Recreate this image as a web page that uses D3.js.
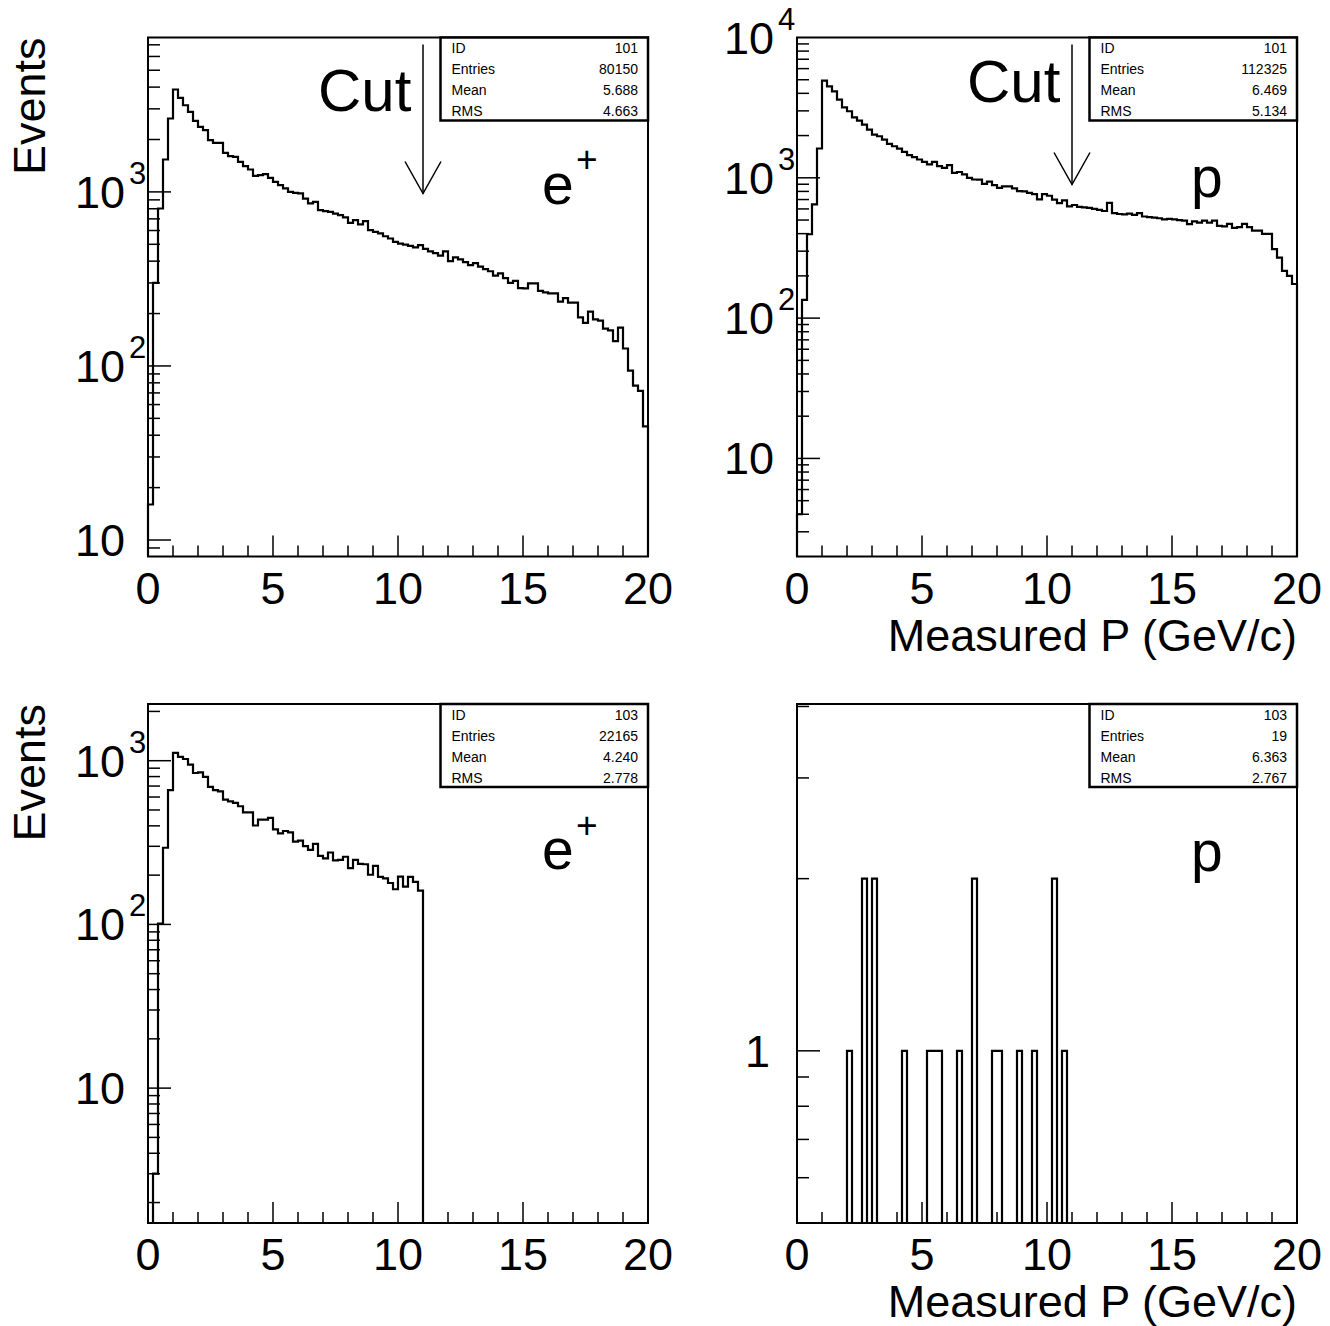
<!DOCTYPE html>
<html>
<head>
<meta charset="utf-8">
<script src="https://cdn.jsdelivr.net/npm/d3@7"></script>
<style>
  body { margin: 0; background: #fff; }
  text { font-family: "Liberation Sans", Arial, Helvetica, sans-serif; fill: #000; }
</style>
</head>
<body>
<script>
// histogram binning: 100 bins of 0.2 GeV/c
var xMin = 0, xMax = 20, nBins = 100;

// e+ before cut (ID 101)
var ePlusAll = [
  16, 300, 803, 1535, 2640, 3875, 3467, 3147, 2883, 2560,
  2364, 2264, 1982, 1914, 1914, 1676, 1604, 1589, 1486, 1405,
  1345, 1236, 1247, 1264, 1203, 1141, 1093, 1047, 1000, 987,
  980, 916, 858, 877, 785, 775, 768, 751, 735, 713,
  664, 688, 650, 680, 603, 589, 577, 556, 540, 516,
  505, 498, 490, 480, 495, 470, 455, 445, 430, 455,
  400, 420, 410, 395, 380, 390, 372, 360, 350, 330,
  340, 320, 300, 308, 280, 279, 298, 298, 270, 265,
  261, 261, 234, 245, 231, 231, 190, 177, 205, 185,
  182, 164, 160, 139, 166, 126, 94, 77, 72, 45
];
// p before cut (ID 101)
var pAll = [
  4, 135, 396, 647, 1618, 4920, 4480, 4130, 3605, 3180,
  2980, 2700, 2557, 2395, 2207, 2034, 1978, 1874, 1743, 1678,
  1617, 1530, 1450, 1403, 1351, 1300, 1245, 1300, 1211, 1178,
  1230, 1086, 1100, 1057, 1000, 973, 970, 906, 940, 887,
  849, 870, 870, 840, 805, 800, 782, 765, 703, 765,
  745, 700, 660, 690, 625, 640, 620, 615, 610, 600,
  590, 580, 663, 560, 552, 548, 555, 545, 560, 530,
  525, 520, 515, 505, 510, 505, 500, 495, 468, 490,
  480, 495, 480, 495, 454, 450, 470, 440, 445, 470,
  445, 420, 420, 398, 398, 310, 270, 217, 200, 175
];
// e+ after cut (ID 103)
var ePlusCut = [
  1, 3, 101, 294, 661, 1115, 1054, 1024, 946, 841,
  849, 796, 692, 661, 650, 578, 565, 552, 527, 484,
  484, 402, 437, 436, 448, 381, 360, 372, 365, 320,
  325, 301, 285, 310, 262, 253, 275, 246, 248, 259,
  221, 248, 234, 233, 201, 228, 195, 191, 179, 164,
  196, 170, 195, 182, 161, 0, 0, 0, 0, 0,
  0, 0, 0, 0, 0, 0, 0, 0, 0, 0,
  0, 0, 0, 0, 0, 0, 0, 0, 0, 0,
  0, 0, 0, 0, 0, 0, 0, 0, 0, 0,
  0, 0, 0, 0, 0, 0, 0, 0, 0, 0
];
// p after cut (ID 103)
var pCut = [
  0, 0, 0, 0, 0, 0, 0, 0, 0, 0,
  1, 0, 0, 2, 0, 2, 0, 0, 0, 0,
  0, 1, 0, 0, 0, 0, 1, 1, 1, 0,
  0, 0, 1, 0, 0, 2, 0, 0, 0, 1,
  1, 0, 0, 0, 1, 0, 0, 1, 0, 0,
  0, 2, 0, 1, 0, 0, 0, 0, 0, 0,
  0, 0, 0, 0, 0, 0, 0, 0, 0, 0,
  0, 0, 0, 0, 0, 0, 0, 0, 0, 0,
  0, 0, 0, 0, 0, 0, 0, 0, 0, 0,
  0, 0, 0, 0, 0, 0, 0, 0, 0, 0
];

var statNames = ["ID", "Entries", "Mean", "RMS"];
var statsEPlusAll = ["101", "80150", "5.688", "4.663"];
var statsPAll = ["101", "112325", "6.469", "5.134"];
var statsEPlusCut = ["103", "22165", "4.240", "2.778"];
var statsPCut = ["103", "19", "6.363", "2.767"];

var xMajorTicks = [0, 5, 10, 15, 20];
var cutValue = 11;

var svg = d3.select("body").append("svg")
  .attr("width", 1330)
  .attr("height", 1326);

var font = 45;

// one entry per pad
var pads = [
  {counts: ePlusAll, stats: statsEPlusAll, left: 148, top: 37.5, yDomain: [8.04, 7710],
   particle: "e", sup: "+", labelDy: 166, cut: true, cutDy: 73, ytitle: true, xtitle: false},
  {counts: pAll, stats: statsPAll, left: 797, top: 37.5, yDomain: [2.0, 10000],
   particle: "p", sup: "", labelDy: 159, cut: true, cutDy: 64, ytitle: false, xtitle: true},
  {counts: ePlusCut, stats: statsEPlusCut, left: 148, top: 704, yDomain: [1.5, 2220],
   particle: "e", sup: "+", labelDy: 165, cut: false, ytitle: true, xtitle: false},
  {counts: pCut, stats: statsPCut, left: 797, top: 704, yDomain: [0.5, 4.04],
   particle: "p", sup: "", labelDy: 167, cut: false, ytitle: false, xtitle: true}
];

var padW = 500, padH = 519;

pads.forEach(drawPad);

function drawPad(p) {
  var g = svg.append("g").attr("transform", "translate(" + p.left + "," + p.top + ")");
  var x = d3.scaleLinear().domain([xMin, xMax]).range([0, padW]);
  var y = d3.scaleLog().domain(p.yDomain).range([padH, 0]).clamp(true);
  var binW = (xMax - xMin) / nBins;

  // histogram outline, empty bins sit on the frame bottom
  var pts = [[xMin, p.yDomain[0]]];
  p.counts.forEach(function (c, i) {
    var v = c > 0 ? c : p.yDomain[0];
    pts.push([xMin + i * binW, v]);
    pts.push([xMin + (i + 1) * binW, v]);
  });
  pts.push([xMax, p.yDomain[0]]);
  var line = d3.line()
    .x(function (d) { return x(d[0]); })
    .y(function (d) { return y(d[1]); });
  g.append("path")
    .attr("d", line(pts))
    .attr("fill", "none")
    .attr("stroke", "#000")
    .attr("stroke-width", 2.2);

  // x ticks (inside, from the bottom)
  d3.range(xMin, xMax + 1, 1).forEach(function (v) {
    var major = xMajorTicks.indexOf(v) >= 0;
    g.append("line")
      .attr("x1", x(v)).attr("x2", x(v))
      .attr("y1", padH).attr("y2", padH - (major ? 21 : 11))
      .attr("stroke", "#000").attr("stroke-width", 1.5);
  });
  xMajorTicks.forEach(function (v) {
    g.append("text")
      .attr("x", x(v)).attr("y", padH + 47)
      .attr("text-anchor", "middle")
      .style("font-size", font + "px")
      .text(v);
  });

  // y ticks: decades major, 2..9 minor
  var lo = Math.floor(Math.log10(p.yDomain[0])), hi = Math.ceil(Math.log10(p.yDomain[1]));
  for (var e = lo; e <= hi; e++) {
    for (var m = 1; m <= 9; m++) {
      var v = m * Math.pow(10, e);
      if (v < p.yDomain[0] || v > p.yDomain[1]) continue;
      var yy = y(v);
      if (yy < 2 || yy > padH - 2) continue;
      g.append("line")
        .attr("x1", 0).attr("x2", m === 1 ? 23 : 12)
        .attr("y1", yy).attr("y2", yy)
        .attr("stroke", "#000").attr("stroke-width", 1.5);
    }
    var dv = Math.pow(10, e);
    if (dv < p.yDomain[0] * 0.999 || dv > p.yDomain[1] * 1.001) continue;
    var t = g.append("text")
      .attr("x", -23).attr("y", y(dv) + 16)
      .attr("text-anchor", "end")
      .style("font-size", font + "px");
    if (e === 0) {
      t.attr("x", -27).text("1");
    } else {
      t.text("10");
      if (e !== 1) {
        g.append("text")
          .attr("x", -19).attr("y", y(dv) - 8)
          .style("font-size", "31px")
          .text(e);
      }
    }
  }

  // frame
  g.append("rect")
    .attr("width", padW).attr("height", padH)
    .attr("fill", "none").attr("stroke", "#000").attr("stroke-width", 2);

  // stats box
  var bx = 292.5, bw = padW - bx, bh = 83;
  g.append("rect")
    .attr("x", bx).attr("y", 0).attr("width", bw).attr("height", bh)
    .attr("fill", "#fff").attr("stroke", "#000").attr("stroke-width", 2.5);
  statNames.forEach(function (n, i) {
    g.append("text").attr("x", bx + 11).attr("y", 15.5 + i * 21)
      .style("font-size", "14px").text(n);
    g.append("text").attr("x", padW - 10).attr("y", 15.5 + i * 21)
      .attr("text-anchor", "end").style("font-size", "14px").text(p.stats[i]);
  });

  // particle label
  g.append("text")
    .attr("x", 394).attr("y", p.labelDy)
    .style("font-size", "57px")
    .text(p.particle);
  if (p.sup) {
    g.append("text").attr("x", 428).attr("y", 134)
      .style("font-size", "37px").text(p.sup);
  }

  // cut marker
  if (p.cut) {
    g.append("text")
      .attr("x", 170).attr("y", p.cutDy)
      .style("font-size", "60px")
      .text("Cut");
    var cx = x(cutValue);
    var tip = p.cutDy + 83;
    g.append("line")
      .attr("x1", cx).attr("x2", cx).attr("y1", 7).attr("y2", tip)
      .attr("stroke", "#000").attr("stroke-width", 1.5);
    g.append("path")
      .attr("d", "M" + (cx - 18) + "," + (tip - 32) + "L" + cx + "," + tip + "L" + (cx + 18) + "," + (tip - 32))
      .attr("fill", "none").attr("stroke", "#000").attr("stroke-width", 1.5);
  }

  if (p.ytitle) {
    g.append("text")
      .attr("transform", "translate(-103,0) rotate(-90)")
      .attr("text-anchor", "end")
      .style("font-size", font + "px")
      .text("Events");
  }
  if (p.xtitle) {
    g.append("text")
      .attr("x", padW).attr("y", padH + 94)
      .attr("text-anchor", "end")
      .style("font-size", font + "px")
      .text("Measured P (GeV/c)");
  }
}
</script>
</body>
</html>
